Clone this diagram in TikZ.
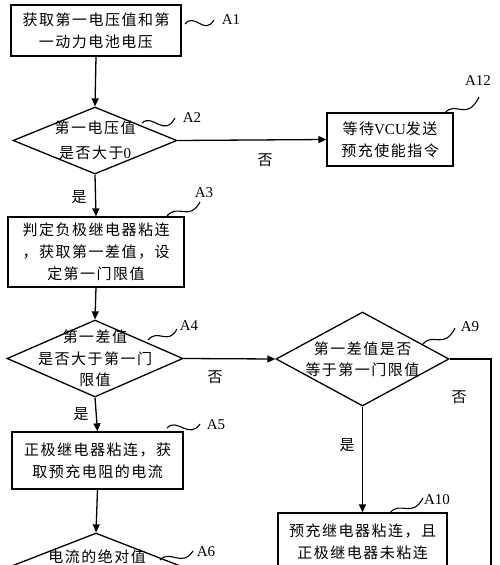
\documentclass[tikz,border=0pt]{standalone}
\usepackage{fontspec}
\setmainfont{Liberation Serif}
\newfontfamily\cjk[LetterSpace=10]{Noto Sans CJK SC}
\usetikzlibrary{arrows.meta,shapes.geometric}
\begin{document}
\begin{tikzpicture}[x=1pt,y=-1pt, line width=1.3pt,
 box/.style={draw, rectangle, inner sep=0pt, align=center, font=\cjk\fontsize{15}{22}\selectfont},
 dia/.style={draw, diamond, inner sep=0pt},
 txt/.style={align=center, inner sep=0pt, font=\cjk\fontsize{15}{22}\selectfont},
 lbl/.style={font=\fontsize{15}{18}\selectfont, inner sep=0pt},
 arr/.style={-{Triangle[length=8pt,width=7pt]}},
 wave/.style={line width=1.1pt}]
\clip (0,0) rectangle (500,565);
% A1
\node[box, minimum width=170pt, minimum height=51pt] (a1) at (96,30.5) {获取第一电压值和第\\一动力电池电压};
% A2
\node[dia, minimum width=164pt, minimum height=67pt] (a2) at (95,140.5) {};
\node[txt, font=\cjk\fontsize{15}{25}\selectfont] (t2) at (a2) {第一电压值\\是否大于{\rmfamily 0}};
% A12
\node[box, minimum width=126pt, minimum height=53pt] (a12) at (390,139.5) {等待{\rmfamily VCU}发送\\预充使能指令};
% A3
\node[box, minimum width=176pt, minimum height=70pt] (a3) at (96,252) {判定负极继电器粘连\\，获取第一差值，设\\定第一门限值};
% A4
\node[dia, minimum width=176pt, minimum height=77pt] (a4) at (95,358.5) {};
\node[txt, font=\cjk\fontsize{15}{21.5}\selectfont] (t4) at (a4) {第一差值\\是否大于第一门\\限值};
% A9
\node[dia, minimum width=173pt, minimum height=94pt] (a9) at (362.5,359) {};
\node[txt, font=\cjk\fontsize{15}{21}\selectfont] (t9) at (a9) {第一差值是否\\等于第一门限值};
% A5
\node[box, minimum width=171pt, minimum height=57pt] (a5) at (97.5,460.5) {正极继电器粘连，获\\取预充电阻的电流};
% A10
\node[box, minimum width=169pt, minimum height=57pt] (a10) at (362.5,541.5) {预充继电器粘连，且\\正极继电器未粘连};
% A6
\node[dia, minimum width=200pt, minimum height=78pt] (a6) at (96,572) {};
\node[txt, anchor=center] (t6) at (97,557) {电流的绝对值};
% connectors
\draw[arr] (a1.south) -- (a2.north);
\draw[arr] (a2.east) -- (a12.west);
\draw[arr] (a2.south) -- (a3.north);
\draw[arr] (a3.south) -- (a4.north);
\draw[arr] (a4.east) -- (a9.west);
\draw[arr] (a4.south) -- (a5.north);
\draw[arr] (a5.south) -- (a6.north);
\draw[arr] (a9.south) -- (a10.north);
\coordinate (c1) at (491,359);
\coordinate (c2) at (491,570);
\draw (a9.east) -- (c1) -- (c2);
% yes/no labels
\node[txt] (n1) at (265,160) {否};
\node[txt] (y1) at (79,197) {是};
\node[txt] (n2) at (215,377) {否};
\node[txt] (y2) at (81,414) {是};
\node[txt] (n3) at (459,397) {否};
\node[txt] (y3) at (347,445) {是};
% step labels
\node[lbl] (l1) at (231,20) {A1};
\node[lbl] (l2) at (192,118) {A2};
\node[lbl] (l12) at (478,81) {A12};
\node[lbl] (l3) at (204,193) {A3};
\node[lbl] (l4) at (189,326) {A4};
\node[lbl] (l9) at (470,327) {A9};
\node[lbl] (l10) at (437,500) {A10};
\node[lbl] (l5) at (216,425) {A5};
\node[lbl] (l6) at (206,552) {A6};
% waves
\draw[wave] (185,24) .. controls (195,12) and (204,36) .. (214,20);
\draw[wave] (142,123) .. controls (153,113) and (164,138) .. (175,118);
\draw[wave] (445,113) .. controls (455,100) and (467,122) .. (479,97);
\draw[wave] (167,216) .. controls (178,203) and (189,222) .. (200,202);
\draw[wave] (148,340) .. controls (158,328) and (168,346) .. (177,329);
\draw[wave] (423,344) .. controls (433,332) and (444,350) .. (455,328);
\draw[wave] (390,513) .. controls (400,500) and (412,519) .. (423,498);
\draw[wave] (167,428) .. controls (177,417) and (189,440) .. (200,424);
\draw[wave] (160,560) .. controls (170,549) and (182,568) .. (193,551);
\end{tikzpicture}
\end{document}
